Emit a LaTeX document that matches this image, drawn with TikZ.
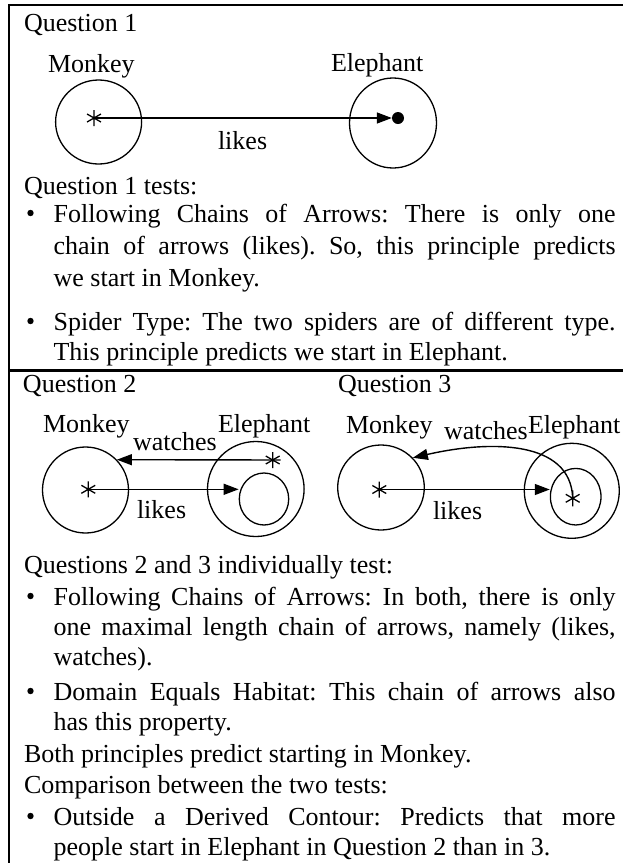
\documentclass[tikz,border=0pt]{standalone}
\usepackage{fontspec}
\setmainfont{Liberation Serif}
\usetikzlibrary{arrows.meta,shapes.geometric}
\frenchspacing

% one justified line of a bullet paragraph
\newcommand\jline[1]{\makebox[562pt][s]{#1}}
% the six legs of a spider
\newcommand\spiderlegs[1]{\draw[leg] (#1.90) -- (#1.270) (#1.30) -- (#1.210) (#1.150) -- (#1.330);}

\tikzset{
  txt/.style={anchor=base west, inner sep=0pt, outer sep=0pt, font=\fontsize{26}{30}\selectfont},
  bul/.style={circle, fill, inner sep=0pt, minimum size=6.4pt},
  region/.style={ellipse, draw, line width=1.3pt, inner sep=0pt},
  spider/.style={circle, inner sep=0pt, outer sep=0pt, minimum size=16pt},
  leg/.style={line width=1.3pt},
  spot/.style={circle, fill, inner sep=0pt, minimum size=12pt},
  arr/.style={line width=1.4pt, -{Triangle[length=15pt,width=11pt]}},
  frame/.style={line width=2.4pt}
}

\begin{document}
\begin{tikzpicture}[x=1pt,y=-1pt]
\useasboundingbox (0,0) rectangle (622,863);

% outer frame and the divider between the two parts
\coordinate (fbl) at (9,870);
\coordinate (ftl) at (9,5);
\coordinate (ftr) at (630,5);
\coordinate (dl) at (9,370.5);
\coordinate (dr) at (630,370.5);
\draw[frame] (fbl) -- (ftl) -- (ftr);
\draw[frame] (dl) -- (dr);

% ---------- Question 1 ----------
\node[txt] (q1) at (24,31) {Question 1};
\node[txt] (q1m) at (48,72) {Monkey};
\node[txt] (q1e) at (331,71) {Elephant};
\node[region, minimum width=86pt, minimum height=84pt] (m1) at (98.6,122) {};
\node[region, minimum width=87pt, minimum height=90pt] (e1) at (393,123) {};
\node[spider] (m1s) at (94,118) {};
\spiderlegs{m1s}
\node[spot] (e1d) at (398,118) {};
\draw[arr] (m1s.center) -- (e1d.west);
\node[txt] (q1l) at (218,149) {likes};

\node[txt] (t1) at (24,194) {Question 1 tests:};
\node[bul] (b11) at (30.5,213) {};
\node[txt] (t11) at (53.6,222) {\jline{Following Chains of Arrows: There is only one}};
\node[txt] (t12) at (53.6,254) {\jline{chain of arrows (likes). So, this principle predicts}};
\node[txt] (t13) at (53.6,286) {we start in Monkey.};
\node[bul] (b12) at (30.5,321) {};
\node[txt] (t14) at (53.6,330) {\jline{Spider Type: The two spiders are of different type.}};
\node[txt] (t15) at (53.6,360) {This principle predicts we start in Elephant.};

% ---------- Question 2 ----------
\node[txt] (q2) at (23,392) {Question 2};
\node[txt] (q2m) at (43,432) {Monkey};
\node[txt] (q2w) at (133,450) {watches};
\node[txt] (q2e) at (218,432) {Elephant};
\node[region, minimum width=86pt, minimum height=86pt] (m2) at (85.5,490) {};
\node[region, minimum width=96.6pt, minimum height=95pt] (e2) at (255.8,489) {};
\node[region, minimum width=49.4pt, minimum height=52pt] (i2) at (264,499) {};
\node[spider] (m2s) at (88.3,489.3) {};
\spiderlegs{m2s}
\node[spider] (e2s) at (272.7,460) {};
\spiderlegs{e2s}
\draw[arr] (m2s.center) -- (m2s.center -| i2.west);
\draw[arr] (e2s.east) -- (m2.44);
\node[txt] (q2l) at (137,518) {likes};

% ---------- Question 3 ----------
\node[txt] (q3) at (338,392) {Question 3};
\node[txt] (q3m) at (346,433) {Monkey};
\node[txt] (q3w) at (444,439) {watches};
\node[txt] (q3e) at (528,433) {Elephant};
\node[region, minimum width=86.6pt, minimum height=85pt] (m3) at (381,487.5) {};
\node[region, minimum width=95pt, minimum height=95pt] (e3) at (571.8,490.8) {};
\node[region, minimum width=50.6pt, minimum height=56.6pt] (i3) at (575.7,496.7) {};
\node[spider] (m3s) at (379.3,489.5) {};
\spiderlegs{m3s}
\node[spider] (i3s) at (572.7,498.3) {};
\spiderlegs{i3s}
\draw[arr] (m3s.center) -- (m3s.center -| i3.west);
\draw[arr] (i3s.center) .. controls (571,440) and (490,440) .. (m3.43);
\node[txt] (q3l) at (433,519) {likes};

% ---------- text below the diagrams ----------
\node[txt] (t2) at (24,573) {Questions 2 and 3 individually test:};
\node[bul] (b21) at (30.5,596) {};
\node[txt] (t21) at (53.6,605) {\jline{Following Chains of Arrows: In both, there is only}};
\node[txt] (t22) at (53.6,635) {\jline{one maximal length chain of arrows, namely (likes,}};
\node[txt] (t23) at (53.6,665) {watches).};
\node[bul] (b22) at (30.5,691) {};
\node[txt] (t24) at (53.6,700) {\jline{Domain Equals Habitat: This chain of arrows also}};
\node[txt] (t25) at (53.6,730) {has this property.};
\node[txt] (t26) at (24,762) {Both principles predict starting in Monkey.};
\node[txt] (t27) at (24,793) {Comparison between the two tests:};
\node[bul] (b23) at (30.5,816) {};
\node[txt] (t28) at (53.6,825) {\jline{Outside a Derived Contour: Predicts that more}};
\node[txt] (t29) at (53.6,855) {people start in Elephant in Question 2 than in 3.};
\end{tikzpicture}
\end{document}
